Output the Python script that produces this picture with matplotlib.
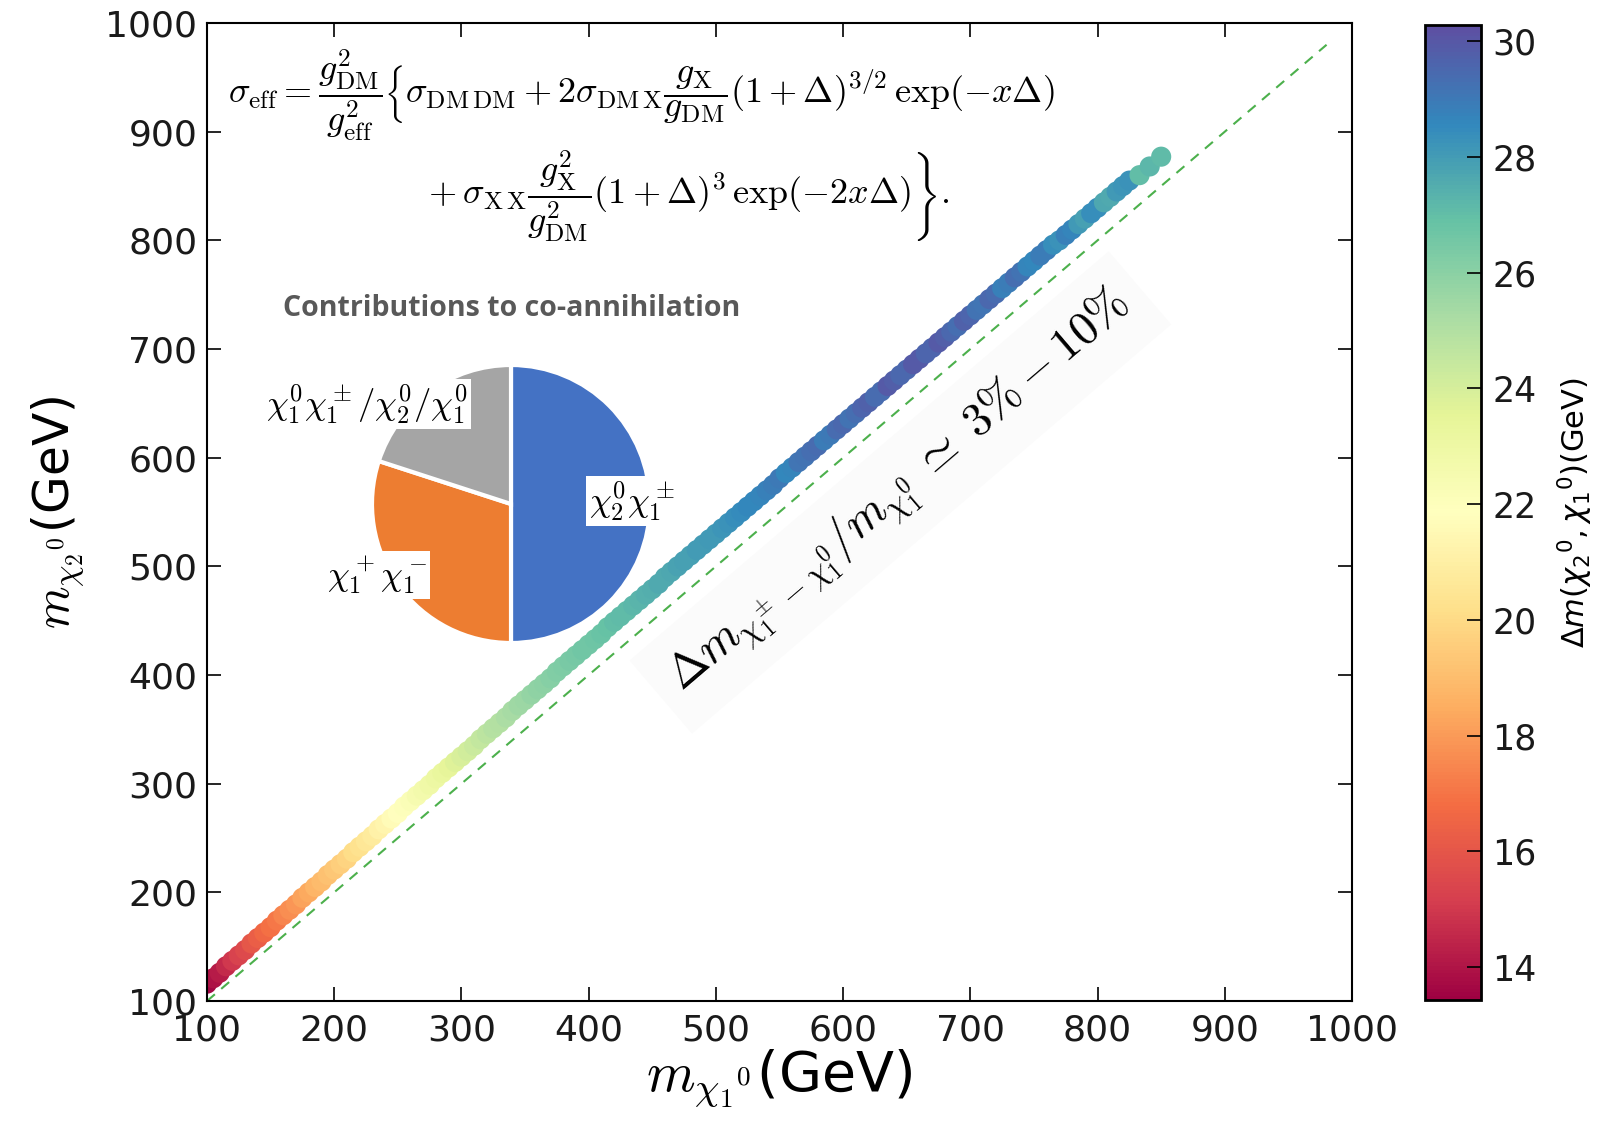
import matplotlib
matplotlib.use("Agg")
import matplotlib.pyplot as plt

plt.rcParams['font.family'] = ['DejaVu Sans']

# Lightest neutralino mass (GeV)
m_chi1 = [100, 105, 110, 115, 120, 125, 130, 135, 140, 145,
          150, 155, 160, 165, 170, 175, 180, 185, 190, 195,
          200, 205, 210, 215, 220, 225, 230, 235, 240, 245,
          250, 255, 260, 265, 270, 275, 280, 285, 290, 295,
          300, 305, 310, 315, 320, 325, 330, 335, 340, 345,
          350, 355, 360, 365, 370, 375, 380, 385, 390, 395,
          400, 405, 410, 415, 420, 425, 430, 435, 440, 445,
          450, 455, 460, 465, 470, 475, 480, 485, 490, 495,
          500, 505, 510, 515, 520, 525, 530, 535, 540, 545,
          550, 555, 560, 565, 570, 575, 580, 585, 590, 595,
          600, 605, 610, 615, 620, 625, 630, 635, 640, 645,
          650, 655, 660, 665, 670, 675, 680, 685, 690, 695,
          700, 705, 710, 715, 720, 725, 730, 735, 740, 745,
          750, 755, 760, 765, 770, 775, 780, 785, 790, 795,
          800, 805, 810, 815, 820, 825, 833, 841, 850]
# Second neutralino mass (GeV)
m_chi2 = [116, 121, 126, 132, 137, 142, 147, 153, 158, 163,
          168, 174, 179, 184, 189, 195, 200, 205, 210, 216,
          221, 226, 231, 237, 242, 247, 252, 258, 263, 268,
          273, 279, 284, 289, 294, 299, 305, 310, 315, 320,
          325, 330, 335, 341, 346, 351, 356, 361, 367, 372,
          377, 382, 387, 392, 397, 403, 408, 413, 418, 423,
          428, 433, 438, 444, 449, 454, 459, 464, 469, 474,
          479, 484, 490, 495, 500, 505, 510, 515, 520, 525,
          530, 535, 540, 545, 550, 555, 560, 565, 570, 575,
          581, 586, 591, 596, 601, 606, 611, 616, 621, 626,
          631, 636, 641, 646, 651, 656, 661, 666, 671, 676,
          681, 686, 691, 696, 701, 706, 711, 716, 721, 726,
          731, 736, 741, 746, 751, 756, 761, 766, 771, 776,
          781, 786, 791, 796, 800, 805, 810, 815, 820, 825,
          830, 835, 840, 845, 850, 855, 860, 868, 877]
# Mass splitting Delta m(chi2^0, chi1^0) (GeV)
delta_m = [13.6, 13.9, 14.2, 14.6, 15.0, 15.3, 15.6, 16.0, 16.3, 16.6,
           16.9, 17.1, 17.4, 17.7, 17.9, 18.2, 18.4, 18.7, 18.9, 19.1,
           19.3, 19.6, 19.8, 20.1, 20.3, 20.6, 20.8, 21.1, 21.3, 21.6,
           21.8, 22.0, 22.2, 22.5, 22.7, 22.9, 23.1, 23.3, 23.5, 23.7,
           23.9, 24.1, 24.3, 24.5, 24.7, 24.9, 25.0, 25.2, 25.3, 25.5,
           25.6, 25.8, 25.9, 26.0, 26.1, 26.2, 26.3, 26.4, 26.5, 26.6,
           26.6, 26.7, 26.8, 26.9, 27.0, 27.1, 27.1, 27.2, 27.3, 27.4,
           27.5, 27.6, 27.6, 27.7, 27.8, 27.9, 27.9, 28.0, 28.0, 28.1,
           28.1, 28.2, 28.3, 28.4, 28.5, 28.6, 28.6, 28.7, 28.8, 28.9,
           29.0, 28.6, 28.7, 29.1, 29.2, 29.3, 29.4, 28.9, 29.0, 29.4,
           29.5, 29.2, 29.3, 29.6, 29.7, 29.4, 29.4, 29.9, 29.8, 29.5,
           29.5, 29.9, 29.9, 29.6, 29.6, 29.9, 29.8, 29.5, 29.3, 29.7,
           29.6, 29.2, 29.1, 29.5, 29.4, 28.8, 28.9, 29.3, 29.2, 28.7,
           28.6, 28.9, 28.9, 28.4, 28.3, 28.8, 28.7, 28.1, 27.9, 28.4,
           28.4, 27.7, 27.6, 28.1, 28.2, 28.3, 27.0, 27.2, 27.1]

# Co-annihilation channel shares (%)
pie_labels = [r'$\chi_2^0\chi_1^\pm$', r'$\chi_1^+\chi_1^-$',
              r'$\chi_1^0\chi_1^\pm/\chi_2^0/\chi_1^0$']
pie_values = [50, 30, 20]
pie_colors = ['#4472C4', '#ED7D31', '#A5A5A5']

x_ticks = [100, 200, 300, 400, 500, 600, 700, 800, 900, 1000]
cb_ticks = [14, 16, 18, 20, 22, 24, 26, 28, 30]

W, H = 1613, 1123
fig = plt.figure(figsize=(W / 100, H / 100), dpi=100)


def px(x, y):
    return x / W, 1 - y / H


ax = fig.add_axes([0.1283, 0.1086, 0.7099, 0.8709])
ax.set_xlim(100, 1000)
ax.set_ylim(100, 1000)

ax.plot([100, 980], [100, 980], ls=(0, (5, 4)), color='#4CB04C', lw=1.5, zorder=1)
sc = ax.scatter(m_chi1, m_chi2, c=delta_m, cmap='Spectral', vmin=13.43, vmax=30.28,
                s=210, edgecolors='none', zorder=2)

ax.set_xticks(x_ticks)
ax.set_yticks(x_ticks)
ax.tick_params(direction='in', length=10, width=1.2, top=True, right=True,
               labelsize=26, labelcolor='#1a1a1a', pad=7)
ax.tick_params(axis='x', pad=9)
for side in ax.spines.values():
    side.set_linewidth(1.5)

ax.set_xlabel(r'$m_{\chi_1{}^0}$(GeV)', fontsize=40, math_fontfamily='cm', labelpad=0)
ax.set_ylabel(r'$m_{\chi_2{}^0}$(GeV)', fontsize=35, math_fontfamily='cm', labelpad=14)

# Effective cross section
line1 = (r'$\sigma_{\rm eff} = \dfrac{g_{\rm DM}^2}{g_{\rm eff}^2}\left\{\sigma_{\rm DM\,DM}'
         r' + 2\sigma_{\rm DM\,X}\dfrac{g_{\rm X}}{g_{\rm DM}}(1+\Delta)^{3/2}\,\exp(-x\Delta)\right.$')
line2 = (r'$\left. + \sigma_{\rm X\,X}\dfrac{g_{\rm X}^2}{g_{\rm DM}^2}'
         r'(1+\Delta)^3\,\exp(-2x\Delta)\right\}.$')
fig.text(*px(228, 95), line1, fontsize=26, math_fontfamily='cm', ha='left', va='center')
fig.text(*px(422, 196), line2, fontsize=26, math_fontfamily='cm', ha='left', va='center')

# Mass-splitting annotation along the diagonal
ax.text(645, 568,
        r'$\Delta m_{\chi_1^\pm - \chi_1^0}/m_{\chi_1^0} \;\simeq\; 3\% - 10\%$',
        fontsize=34, math_fontfamily='cm', rotation=45, transform_rotates_text=True,
        rotation_mode='anchor', ha='center', va='center', zorder=1,
        bbox=dict(facecolor='#fbfbfb', edgecolor='none', pad=14))

# Colorbar
cax = fig.add_axes([0.8834, 0.1095, 0.0347, 0.8682])
cb = fig.colorbar(sc, cax=cax)
cb.set_ticks(cb_ticks)
cb.ax.tick_params(direction='in', length=10, width=1.2, labelsize=25,
                  labelcolor='#1a1a1a', pad=8)
cb.outline.set_linewidth(2)
cb.set_label(r'$\Delta m(\chi_2{}^0,\chi_1{}^0)$(GeV)', fontsize=22, labelpad=14)

# Pie inset
cx, cy, r = 511, 504, 139
pax = fig.add_axes([(cx - r) / W, 1 - (cy + r) / H, 2 * r / W, 2 * r / H])
pax.pie(pie_values, colors=pie_colors, startangle=90, counterclock=False,
        radius=1.0, wedgeprops=dict(edgecolor='white', linewidth=3))
pax.set_xlim(-1, 1)
pax.set_ylim(-1, 1)
pax.set_aspect('auto')

fig.text(*px(512, 309), 'Contributions to co-annihilation', fontsize=20.5,
         fontweight='bold', color='#595959', family='Open Sans', ha='center', va='center')

label_pos = [(632, 501), (377, 575), (367, 404)]
for lab, (lx, ly) in zip(pie_labels, label_pos):
    fig.text(*px(lx, ly), lab, fontsize=25, math_fontfamily='cm', ha='center', va='center',
             bbox=dict(facecolor='white', edgecolor='none', pad=2))

fig.savefig('out.png', dpi=100)
